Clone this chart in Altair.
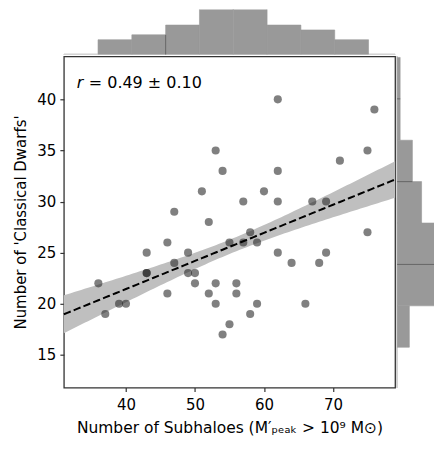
import altair as alt
import numpy as np
import pandas as pd

# ---- scatter data ----
subhaloes = [36, 37, 39, 40, 43, 43, 43, 46, 46, 47, 47, 49, 49, 50, 50, 51, 52, 52,
             53, 53, 53, 54, 54, 55, 55, 56, 56, 57, 57, 58, 58, 59, 59, 60, 62, 62,
             62, 62, 64, 66, 67, 68, 69, 69, 71, 75, 75, 76]
dwarfs = [22, 19, 20, 20, 25, 23, 23, 26, 21, 29, 24, 25, 23, 23, 22, 31, 28, 21,
          35, 22, 20, 33, 17, 26, 18, 22, 21, 30, 26, 27, 19, 26, 20, 31, 40, 33,
          30, 25, 24, 20, 30, 24, 25, 30, 34, 35, 27, 39]

# ---- marginal histograms ----
top_edges = [35.95, 40.85, 45.75, 50.65, 55.55, 60.45, 65.35, 70.25, 75.15]
top_counts = [3, 4, 6, 10, 10, 6, 5, 3]
right_edges = [15.75, 19.8, 23.85, 27.9, 31.95, 36.0, 40.05, 44.1]
right_counts = [4, 15, 13, 8, 5, 1, 1]

# seams visible between some adjacent bars
top_seam_x = [45.75]
top_seam_len = [4]
right_seam_y = [23.85, 31.95, 40.05]
right_seam_len = [13, 5, 1]

x_ticks = [40, 50, 60, 70]
y_ticks = [15, 20, 25, 30, 35, 40]
x_domain = [31, 79]
y_domain = [11.8, 44.2]

FONT = "DejaVu Sans"
HIST = "#999999"

scatter_df = pd.DataFrame({"x": subhaloes, "y": dwarfs})

# regression line and +/- 1 s.e. band computed from the points
xa = np.array(subhaloes, dtype=float)
ya = np.array(dwarfs, dtype=float)
n = len(xa)
slope, intercept = np.polyfit(xa, ya, 1)
resid = ya - (slope * xa + intercept)
s = np.sqrt(np.sum(resid ** 2) / (n - 2))
sxx = np.sum((xa - xa.mean()) ** 2)
grid = np.linspace(x_domain[0], x_domain[1], 97)
pred = slope * grid + intercept
se = s * np.sqrt(1.0 / n + (grid - xa.mean()) ** 2 / sxx)
fit_df = pd.DataFrame({"x": grid, "y": pred, "lo": pred - se, "hi": pred + se})

xscale = alt.Scale(domain=x_domain, nice=False, zero=False)
yscale = alt.Scale(domain=y_domain, nice=False, zero=False)
xaxis = alt.Axis(values=x_ticks, title="Number of Subhaloes (M′ₚₑₐₖ > 10⁹ M⊙)",
                 labelPadding=6, titlePadding=8, titleFontSize=15.5)
yaxis = alt.Axis(values=y_ticks, title="Number of 'Classical Dwarfs'",
                 labelPadding=4, titlePadding=8)

band = alt.Chart(fit_df).mark_area(color="#bfbfbf").encode(
    x=alt.X("x:Q", scale=xscale, axis=xaxis),
    y=alt.Y("lo:Q", scale=yscale, axis=yaxis),
    y2="hi:Q",
)
points = alt.Chart(scatter_df).mark_circle(size=66, color="#252525", opacity=0.58).encode(
    x=alt.X("x:Q", scale=xscale, axis=xaxis),
    y=alt.Y("y:Q", scale=yscale, axis=yaxis),
)
line = alt.Chart(fit_df).mark_line(color="black", strokeWidth=2, strokeDash=[7.4, 3.2]).encode(
    x=alt.X("x:Q", scale=xscale, axis=xaxis),
    y=alt.Y("y:Q", scale=yscale, axis=yaxis),
)
r_txt = alt.Chart(pd.DataFrame({"t": ["r"]})).mark_text(
    align="left", baseline="alphabetic", font=FONT, fontSize=16, fontStyle="italic", color="black"
).encode(x=alt.value(13), y=alt.value(32), text="t:N")
val_txt = alt.Chart(pd.DataFrame({"t": ["= 0.49 ± 0.10"]})).mark_text(
    align="left", baseline="alphabetic", font=FONT, fontSize=16, color="black"
).encode(x=alt.value(25), y=alt.value(32), text="t:N")

main = alt.layer(band, points, line, r_txt, val_txt).properties(
    width=332, height=332,
    view=alt.ViewBackground(stroke="#333333", strokeWidth=1.3),
)

# top histogram
top_df = pd.DataFrame({"start": top_edges[:-1], "end": top_edges[1:],
                       "count": top_counts, "zero": [0] * len(top_counts)})
top_seam_df = pd.DataFrame({"x": top_seam_x, "len": top_seam_len, "zero": [0] * len(top_seam_x)})
top_y = alt.Scale(domain=[0, 45 / 4.9], nice=False, zero=True)
top_base = alt.Chart(top_df).mark_rule(color="#d4d4d4", strokeWidth=1).encode(
    y=alt.Y("zero:Q", scale=top_y, axis=None))
top_bars = alt.Chart(top_df).mark_bar(color=HIST, stroke=HIST, strokeWidth=0.6, clip=True).encode(
    x=alt.X("start:Q", scale=xscale, axis=None),
    x2="end:Q",
    y=alt.Y("count:Q", scale=top_y, axis=None),
    y2="zero:Q",
)
top_seams = alt.Chart(top_seam_df).mark_rule(color="#666666", strokeWidth=1).encode(
    x=alt.X("x:Q", scale=xscale, axis=None),
    y=alt.Y("len:Q", scale=top_y, axis=None),
    y2="zero:Q",
)
top = alt.layer(top_base, top_bars, top_seams).properties(width=332, height=45)

# right histogram
RIGHT_W = 37
right_df = pd.DataFrame({"start": right_edges[:-1], "end": right_edges[1:],
                         "count": right_counts, "zero": [0] * len(right_counts)})
right_seam_df = pd.DataFrame({"y": right_seam_y, "len": right_seam_len, "zero": [0] * len(right_seam_y)})
right_x = alt.Scale(domain=[0, RIGHT_W / 3.07], nice=False, zero=True)
right_base = alt.Chart(right_df).mark_rule(color="#d4d4d4", strokeWidth=1).encode(
    x=alt.X("zero:Q", scale=right_x, axis=None))
right_bars = alt.Chart(right_df).mark_bar(color=HIST, stroke=HIST, strokeWidth=0.6, clip=True).encode(
    y=alt.Y("start:Q", scale=yscale, axis=None),
    y2="end:Q",
    x=alt.X("count:Q", scale=right_x, axis=None),
    x2="zero:Q",
)
right_seams = alt.Chart(right_seam_df).mark_rule(color="#666666", strokeWidth=1, clip=True).encode(
    y=alt.Y("y:Q", scale=yscale, axis=None),
    x=alt.X("len:Q", scale=right_x, axis=None),
    x2="zero:Q",
)
right = alt.layer(right_base, right_bars, right_seams).properties(width=RIGHT_W, height=332)

row = alt.hconcat(main, right, spacing=2, bounds="flush")
chart = alt.vconcat(top, row, spacing=2, bounds="flush").properties(
    padding={"left": 5, "top": 0, "right": 0, "bottom": 2}
).configure_view(stroke="transparent").configure_axis(
    labelFont=FONT, titleFont=FONT, labelFontSize=15, titleFontSize=15,
    titleFontWeight="normal", labelColor="black", titleColor="black",
    grid=False, domain=False, tickColor="#333333", tickSize=4, tickWidth=1.2,
)

chart.save("out.html", embed_options={"renderer": "svg", "actions": False})
